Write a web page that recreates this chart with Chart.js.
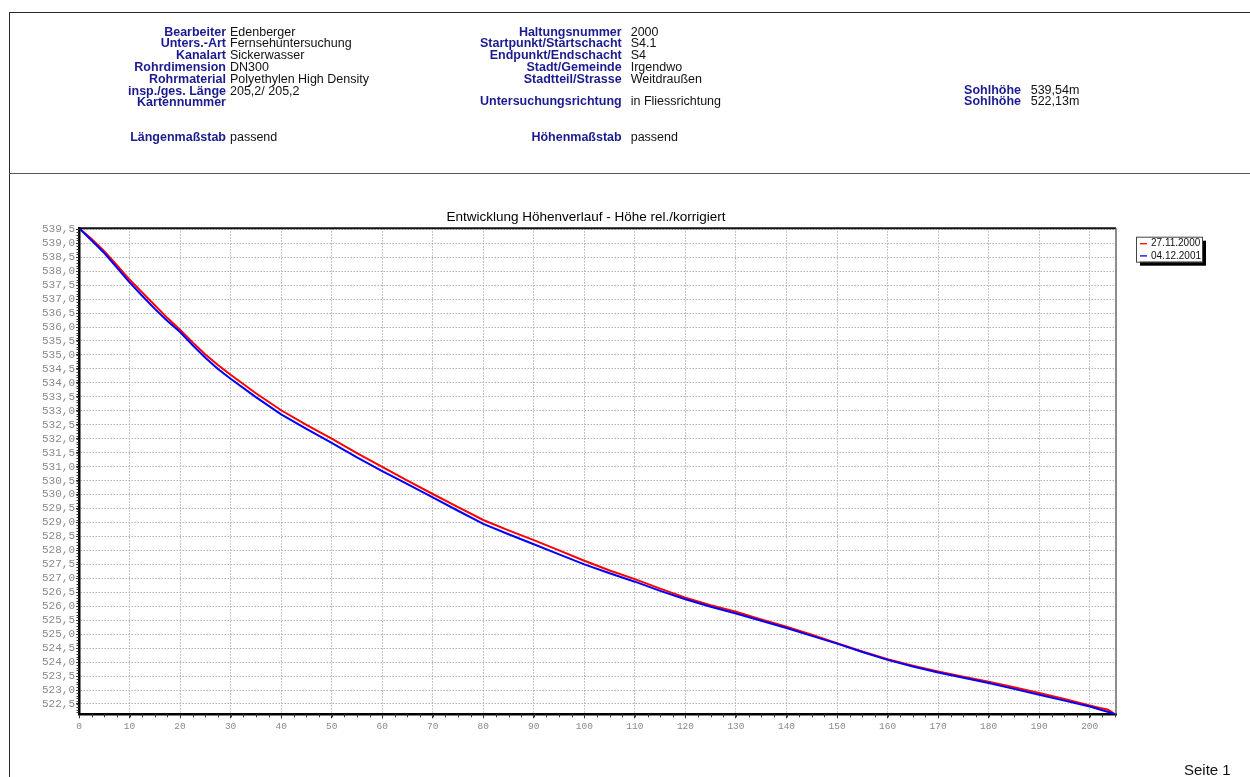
<!DOCTYPE html>
<html>
<head>
<meta charset="utf-8">
<script src="https://cdn.jsdelivr.net/npm/chart.js@4.4.0/dist/chart.umd.min.js"></script>
<style>
body{margin:0;width:1250px;height:777px;overflow:hidden;background:#fff;position:relative;font-family:"Liberation Sans",Arial,sans-serif}
.ln{position:absolute;background:#2a2a2a}
.hd{position:absolute;font-size:12.5px;line-height:11.8px;white-space:nowrap;z-index:2}
.lab{font-weight:bold;color:#1b1b8f;text-align:right}
.val{color:#111}
#wrap{position:absolute;left:0;top:0;width:1250px;height:777px;z-index:1}
#seite{position:absolute;left:1184px;top:762px;font-size:15px;line-height:15px;color:#111;z-index:2}
</style>
</head>
<body>
<div class="ln" style="left:9px;top:12px;width:1241px;height:1.4px"></div>
<div class="ln" style="left:9px;top:12px;width:1.4px;height:765px"></div>
<div class="ln" style="left:9px;top:172.5px;width:1241px;height:1.2px;background:#555"></div>

<div class="hd lab" style="left:0;width:226px;top:26.7px">Bearbeiter<br>Unters.-Art<br>Kanalart<br>Rohrdimension<br>Rohrmaterial<br>insp./ges. Länge<br>Kartennummer</div>
<div class="hd val" style="left:230px;top:26.7px">Edenberger<br>Fernsehuntersuchung<br>Sickerwasser<br>DN300<br>Polyethylen High Density<br>205,2/ 205,2<br>&nbsp;</div>
<div class="hd lab" style="left:0;width:226px;top:131.7px">Längenmaßstab</div>
<div class="hd val" style="left:230px;top:131.7px">passend</div>

<div class="hd lab" style="left:300px;width:321.7px;top:26.7px">Haltungsnummer<br>Startpunkt/Startschacht<br>Endpunkt/Endschacht<br>Stadt/Gemeinde<br>Stadtteil/Strasse</div>
<div class="hd val" style="left:630.7px;top:26.7px">2000<br>S4.1<br>S4<br>Irgendwo<br>Weitdraußen</div>
<div class="hd lab" style="left:300px;width:321.7px;top:95.7px">Untersuchungsrichtung</div>
<div class="hd val" style="left:630.7px;top:95.7px">in Fliessrichtung</div>
<div class="hd lab" style="left:300px;width:321.7px;top:132px">Höhenmaßstab</div>
<div class="hd val" style="left:630.7px;top:132px">passend</div>

<div class="hd lab" style="left:900px;width:121px;top:84.7px">Sohlhöhe<br>Sohlhöhe</div>
<div class="hd val" style="left:1030.7px;top:84.7px">539,54m<br>522,13m</div>

<div id="wrap"><canvas id="hoehenChart" width="1250" height="777"></canvas></div>
<div id="seite">Seite 1</div>

<script>
const titel = 'Entwicklung Höhenverlauf - Höhe rel./korrigiert'
const labelRot = '27.11.2000'
const labelBlau = '04.12.2001'
const distRot = [0, 2.5, 5, 7.5, 10, 12.5, 15, 17.5, 20, 22.5, 25, 27.5, 30, 35, 40, 45, 50, 55, 60, 65, 70, 75, 80, 85, 90, 95, 100, 105, 110, 115, 120, 125, 130, 135, 140, 145, 150, 155, 160, 165, 170, 175, 180, 185, 190, 195, 200, 202, 203.5, 204.3, 204.8]
const hoeheRot = [539.54, 539.15, 538.72, 538.22, 537.70, 537.24, 536.78, 536.32, 535.90, 535.45, 535.02, 534.64, 534.29, 533.63, 533.02, 532.50, 532.00, 531.48, 530.99, 530.50, 530.02, 529.55, 529.09, 528.72, 528.37, 528.00, 527.63, 527.28, 526.97, 526.63, 526.31, 526.04, 525.80, 525.53, 525.27, 524.98, 524.68, 524.38, 524.10, 523.87, 523.66, 523.48, 523.30, 523.10, 522.89, 522.68, 522.45, 522.36, 522.30, 522.22, 522.13]
const distBlau = [0, 2.5, 5, 7.5, 10, 12.5, 15, 17.5, 20, 22.5, 25, 27.5, 30, 35, 40, 45, 50, 55, 60, 65, 70, 75, 80, 85, 90, 95, 100, 105, 110, 115, 120, 125, 130, 135, 140, 145, 150, 155, 160, 165, 170, 175, 180, 185, 190, 195, 200, 202, 205.2]
const hoeheBlau = [539.54, 539.10, 538.65, 538.13, 537.60, 537.12, 536.65, 536.22, 535.82, 535.35, 534.90, 534.50, 534.15, 533.49, 532.87, 532.35, 531.85, 531.33, 530.84, 530.37, 529.90, 529.42, 528.95, 528.58, 528.22, 527.86, 527.50, 527.18, 526.88, 526.55, 526.25, 525.98, 525.74, 525.48, 525.22, 524.94, 524.66, 524.36, 524.08, 523.84, 523.63, 523.44, 523.25, 523.04, 522.83, 522.62, 522.41, 522.30, 522.13]
const xTicks = [0, 10, 20, 30, 40, 50, 60, 70, 80, 90, 100, 110, 120, 130, 140, 150, 160, 170, 180, 190, 200]
const yTicks = [522.5, 523, 523.5, 524, 524.5, 525, 525.5, 526, 526.5, 527, 527.5, 528, 528.5, 529, 529.5, 530, 530.5, 531, 531.5, 532, 532.5, 533, 533.5, 534, 534.5, 535, 535.5, 536, 536.5, 537, 537.5, 538, 538.5, 539, 539.5]

Chart.defaults.font.family = '"Liberation Sans", Arial, sans-serif'

const toPoints = (xs, ys) => xs.map((x, i) => ({x: x, y: ys[i]}))

// Titel, kleine Zwischenstriche, Rahmen oben/rechts, Legende
const extras = {
  id: 'extras',
  afterDraw(chart) {
    const ctx = chart.ctx
    const a = chart.chartArea
    const xs = chart.scales.x, ys = chart.scales.y
    ctx.save()
    ctx.fillStyle = '#000'
    ctx.font = '13.5px "Liberation Sans", Arial, sans-serif'
    ctx.textAlign = 'center'
    ctx.textBaseline = 'middle'
    ctx.fillText(titel, (a.left + a.right) / 2 - 11.5, a.top - 11)
    ctx.textAlign = 'left'

    ctx.strokeStyle = '#333'
    ctx.lineWidth = 1
    ctx.beginPath()
    for (let v = 2.5; v < xs.max; v += 2.5) {
      const px = Math.round(xs.getPixelForValue(v)) + 0.5
      ctx.moveTo(px, a.bottom)
      ctx.lineTo(px, a.bottom + 3)
    }
    for (let k = 5222; k <= 5395; k++) {
      const py = Math.round(ys.getPixelForValue(k / 10)) + 0.5
      ctx.moveTo(a.left - 2.5, py)
      ctx.lineTo(a.left, py)
    }
    ctx.stroke()
    // Rahmen
    ctx.strokeStyle = '#111'
    ctx.lineWidth = 2
    ctx.beginPath()
    ctx.moveTo(a.left, a.top)
    ctx.lineTo(a.right, a.top)
    ctx.stroke()
    ctx.strokeStyle = '#666'
    ctx.lineWidth = 1.5
    ctx.beginPath()
    ctx.moveTo(a.right, a.top)
    ctx.lineTo(a.right, a.bottom)
    ctx.stroke()
    // Legende
    const lx = a.right + 20, ly = a.top + 8.5, lw = 66, lh = 25
    ctx.fillStyle = '#000'
    ctx.fillRect(lx + 4, ly + 4, lw, lh)
    ctx.fillStyle = '#fff'
    ctx.fillRect(lx, ly, lw, lh)
    ctx.strokeStyle = '#444'
    ctx.lineWidth = 1
    ctx.strokeRect(lx + 0.5, ly + 0.5, lw, lh)
    ctx.font = '10px "Liberation Sans", Arial, sans-serif'
    ctx.textBaseline = 'middle'
    const items = [chart.data.datasets[0], chart.data.datasets[1]]
    items.forEach((ds, i) => {
      const yy = ly + 7 + i * 12.2
      ctx.strokeStyle = ds.borderColor
      ctx.lineWidth = 1.3
      ctx.beginPath()
      ctx.moveTo(lx + 4, yy)
      ctx.lineTo(lx + 11, yy)
      ctx.stroke()
      ctx.fillStyle = '#111'
      ctx.fillText(ds.label, lx + 15, yy)
    })
    ctx.restore()
  }
}

const ctx = document.getElementById('hoehenChart').getContext('2d')
const hoehenChart = new Chart(ctx, {
  type: 'scatter',
  data: {
    datasets: [{
      label: labelRot,
      data: toPoints(distRot, hoeheRot),
      showLine: true,
      borderColor: '#ff0000',
      backgroundColor: '#ff0000',
      borderWidth: 2,
      pointRadius: 0,
      tension: 0,
      order: 2
    },
    {
      label: labelBlau,
      data: toPoints(distBlau, hoeheBlau),
      showLine: true,
      borderColor: '#0000ff',
      backgroundColor: '#0000ff',
      borderWidth: 2,
      pointRadius: 0,
      tension: 0,
      order: 1
    }]
  },
  plugins: [extras],
  options: {
    responsive: false,
    animation: false,
    layout: {
      padding: {left: 35, right: 134, top: 228.2, bottom: 32.7}
    },
    plugins: {
      legend: {display: false},
      tooltip: {enabled: false},
      title: {display: false}
    },
    scales: {
      x: {
        type: 'linear',
        min: 0,
        max: 205.2,
        afterFit: s => { s.height = 30 },
        afterBuildTicks: s => { s.ticks = xTicks.map(v => ({value: v})) },
        ticks: {
          color: '#8a8a8a',
          font: {family: '"Liberation Mono", monospace', size: 9.5},
          padding: 2,
          maxRotation: 0,
          autoSkip: false
        },
        grid: {color: '#b4b4b4', lineWidth: 1, tickLength: 4, tickColor: '#333'},
        border: {color: '#000', width: 2.5, dash: [1.5, 1.5]}
      },
      y: {
        type: 'linear',
        min: 522.13,
        max: 539.54,
        afterFit: s => { s.width = 44 },
        afterBuildTicks: s => { s.ticks = yTicks.map(v => ({value: v})) },
        ticks: {
          color: '#8a8a8a',
          font: {family: '"Liberation Mono", monospace', size: 11},
          padding: 1,
          autoSkip: false,
          callback: v => v.toFixed(1).replace('.', ',')
        },
        grid: {color: '#b4b4b4', lineWidth: 1, tickLength: 3, tickColor: '#333'},
        border: {color: '#000', width: 2.5, dash: [1.5, 1.5]}
      }
    }
  }
})
</script>
</body>
</html>
